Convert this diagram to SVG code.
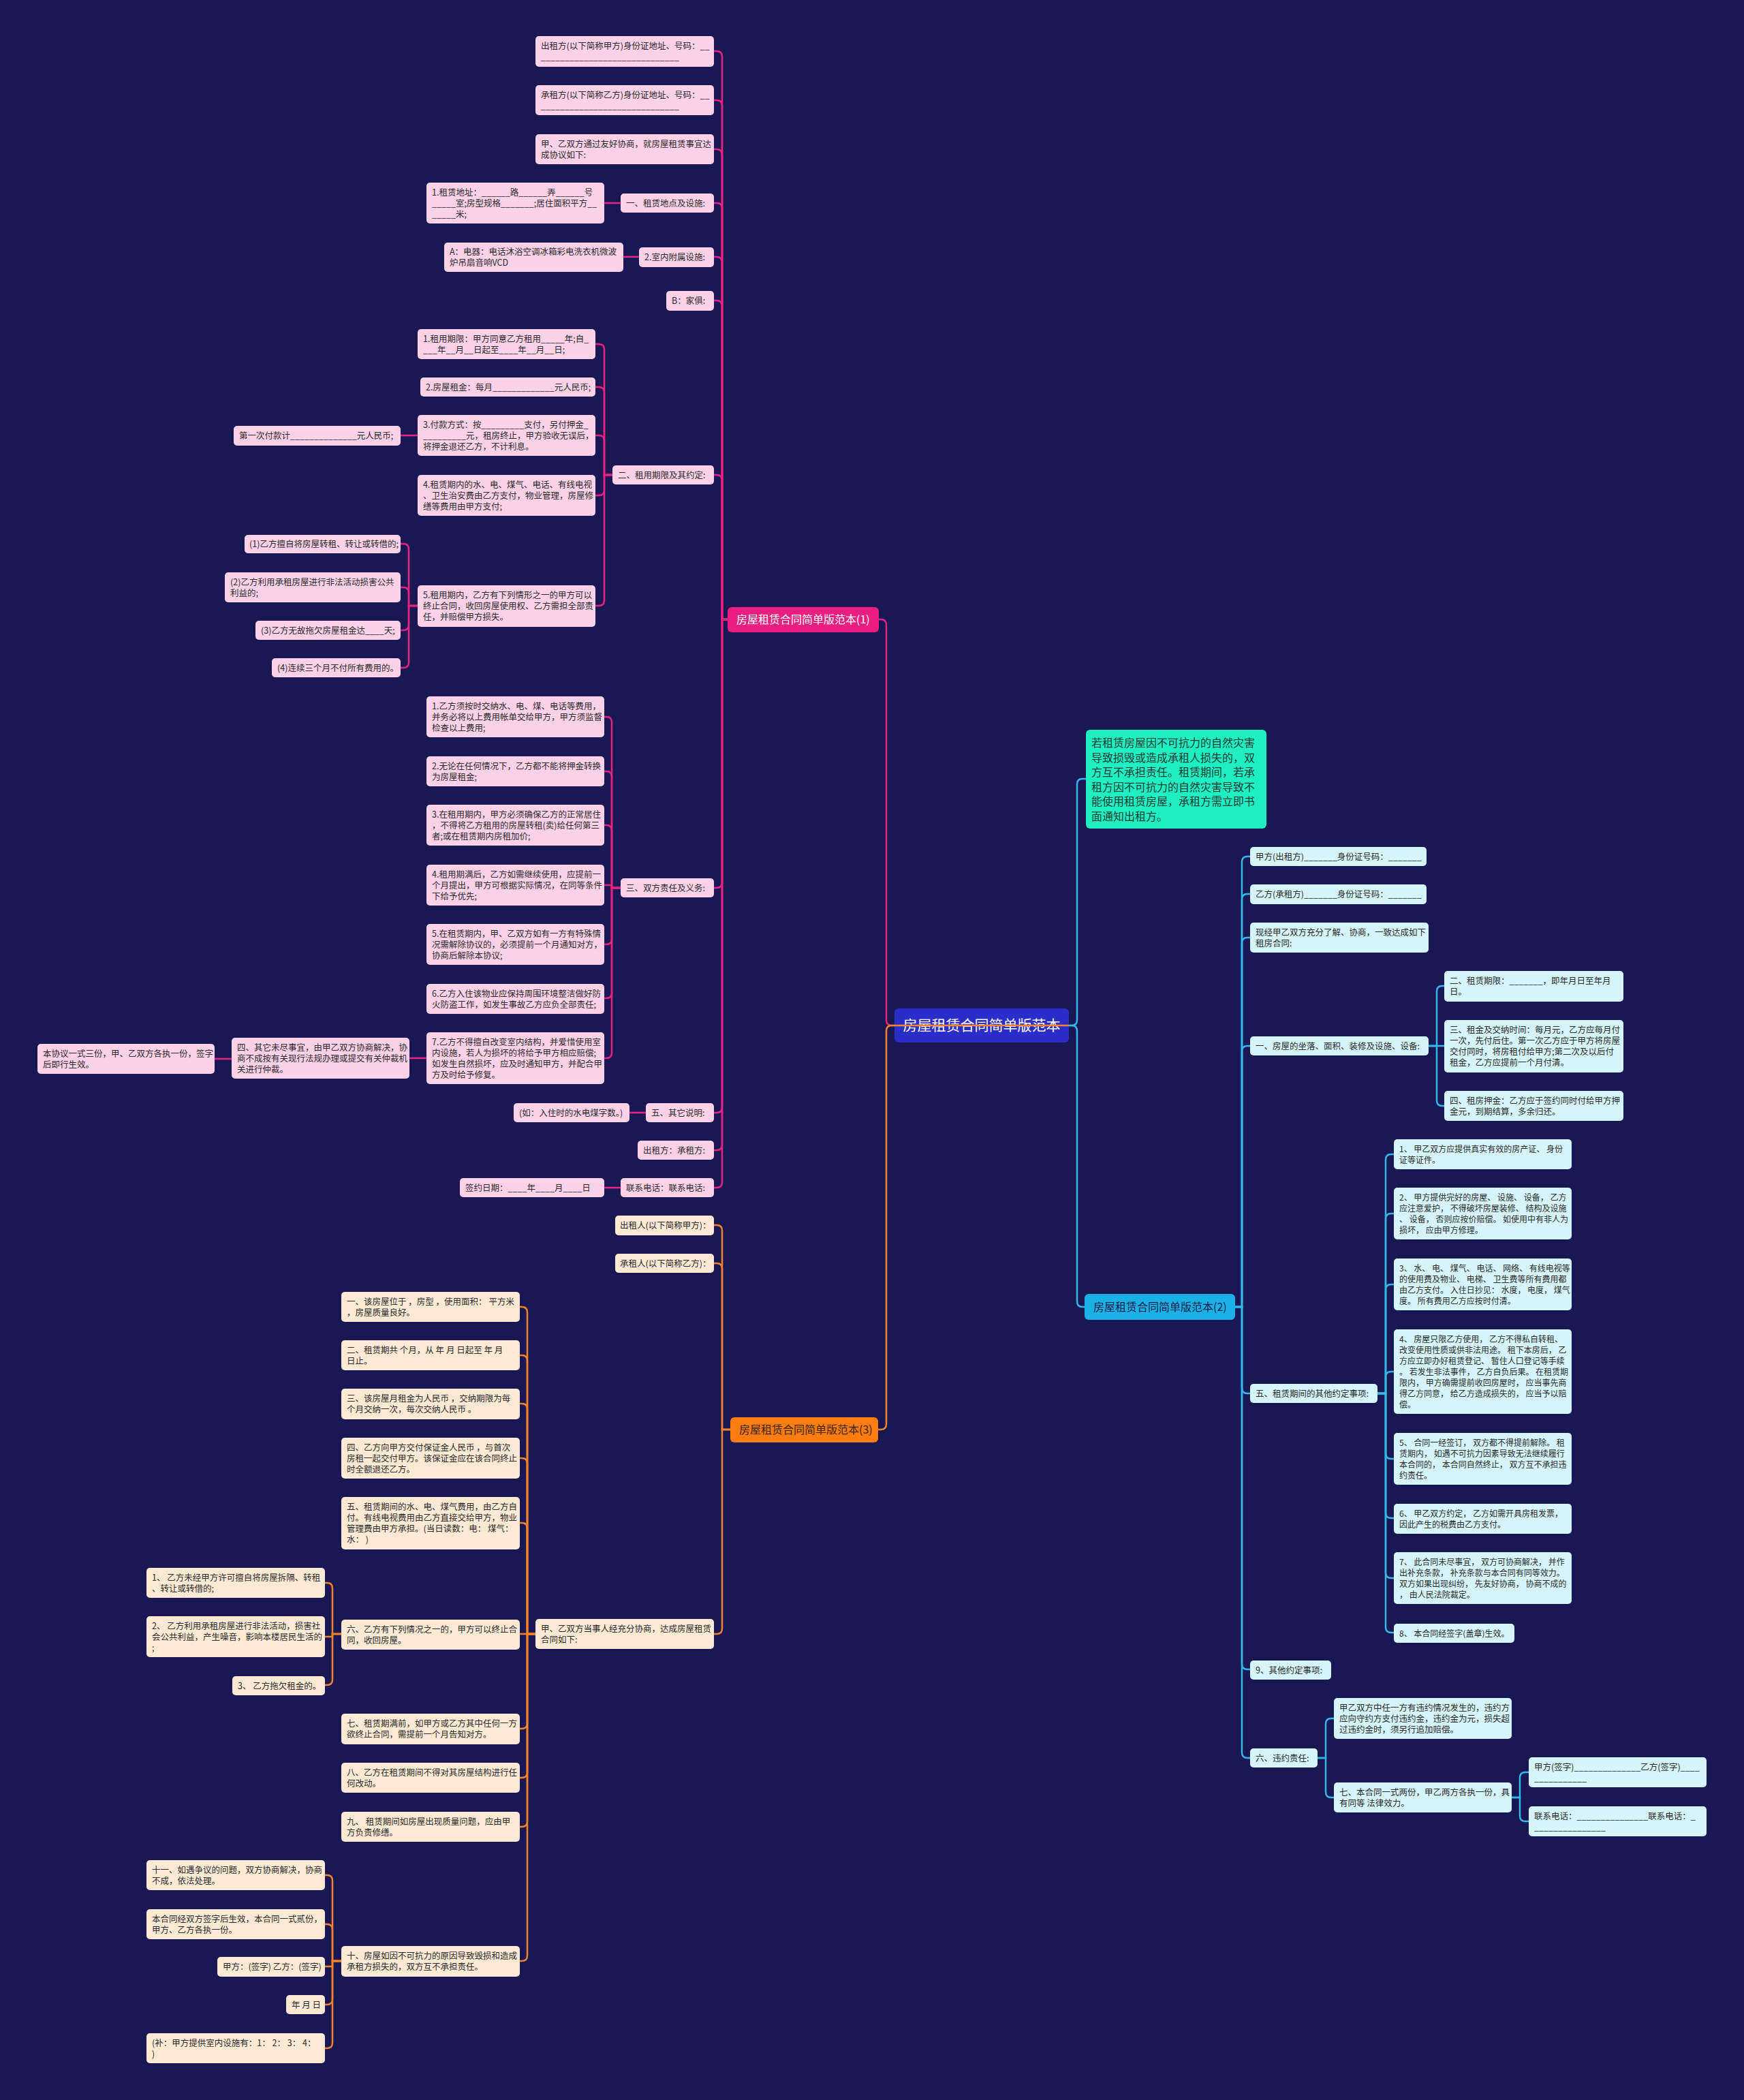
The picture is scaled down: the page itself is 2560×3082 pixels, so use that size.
<svg xmlns="http://www.w3.org/2000/svg" width="2560" height="3082" viewBox="0 0 2560 3082">
<style>
.t{font-family:"Noto Sans CJK SC","Noto Sans",sans-serif;font-size:12.5px;fill:#2b2b2b}
.t2{font-family:"Noto Sans CJK SC","Noto Sans",sans-serif;font-size:12px;fill:#2b2b2b}
.np{fill:#fdd1e7}
.no{fill:#fee9d5}
.nb{fill:#d5f4fb}
.cp{stroke:#e8227f;stroke-width:2.5;fill:none}
.co{stroke:#f2822a;stroke-width:2.5;fill:none}
.cb{stroke:#33b6e8;stroke-width:2.5;fill:none}
.bt{font-family:"Noto Sans CJK SC","Noto Sans",sans-serif;font-size:16px}
</style>
<rect x="0" y="0" width="2560" height="3082" fill="#1a1854"/>

<g id="nodes">
<g id="root"><rect x="1313" y="1480" width="256" height="50" rx="6" fill="#2b2dc9"/><text x="1441" y="1512" text-anchor="middle" style="font-family:'Noto Sans CJK SC','Noto Sans',sans-serif;font-size:21px;fill:#ffffff">房屋租赁合同简单版范本</text></g>

<g id="b1"><rect x="1068" y="891" width="222" height="37" rx="6" fill="#ea1e80"/><text class="bt" x="1081" y="915" fill="#ffffff">房屋租赁合同简单版范本(1)</text></g>
<g id="b1-1"><rect class="np" x="786" y="53" width="262" height="45" rx="5"/><text class="t"><tspan x="794" y="71.5">出租方(以下简称甲方)身份证地址、号码：__</tspan><tspan x="794" y="88">_____________________________</tspan></text></g>
<g id="b1-2"><rect class="np" x="786" y="125" width="262" height="44" rx="5"/><text class="t"><tspan x="794" y="143.5">承租方(以下简称乙方)身份证地址、号码：__</tspan><tspan x="794" y="160">_____________________________</tspan></text></g>
<g id="b1-3"><rect class="np" x="786" y="197" width="262" height="44" rx="5"/><text class="t"><tspan x="794" y="215.5">甲、乙双方通过友好协商，就房屋租赁事宜达</tspan><tspan x="794" y="231.5">成协议如下:</tspan></text></g>
<g id="b1-4"><rect class="np" x="911" y="284" width="137" height="28" rx="5"/><text class="t" x="919" y="302.5">一、租赁地点及设施:</text></g>
<g id="b1-4a"><rect class="np" x="626" y="268" width="261" height="60" rx="5"/><text class="t"><tspan x="634" y="286.5">1.租赁地址：______路______弄______号</tspan><tspan x="634" y="302.5">_____室;房型规格_______;居住面积平方__</tspan><tspan x="634" y="318.5">_____米;</tspan></text></g>
<g id="b1-5"><rect class="np" x="938" y="363" width="110" height="29" rx="5"/><text class="t" x="946" y="381.5">2.室内附属设施:</text></g>
<g id="b1-5a"><rect class="np" x="652" y="356" width="263" height="43" rx="5"/><text class="t"><tspan x="660" y="374">A：电器：电话沐浴空调冰箱彩电洗衣机微波</tspan><tspan x="660" y="390">炉吊扇音响VCD</tspan></text></g>
<g id="b1-6"><rect class="np" x="978" y="427" width="70" height="29" rx="5"/><text class="t" x="986" y="445.5">B：家俱:</text></g>
<g id="b1-7"><rect class="np" x="899" y="683" width="149" height="28" rx="5"/><text class="t" x="907" y="701.5">二、租用期限及其约定:</text></g>
<g id="b1-7a"><rect class="np" x="613" y="483" width="261" height="44" rx="5"/><text class="t"><tspan x="621" y="501.5">1.租用期限：甲方同意乙方租用_____年;自_</tspan><tspan x="621" y="517.5">___年__月__日起至____年__月__日;</tspan></text></g>
<g id="b1-7b"><rect class="np" x="617" y="554" width="257" height="28" rx="5"/><text class="t" x="625" y="572.5">2.房屋租金：每月_____________元人民币;</text></g>
<g id="b1-7c"><rect class="np" x="613" y="609" width="261" height="60" rx="5"/><text class="t"><tspan x="621" y="627.5">3.付款方式：按_________支付，另付押金_</tspan><tspan x="621" y="643.5">_________元，租房终止，甲方验收无误后，</tspan><tspan x="621" y="659.5">将押金退还乙方，不计利息。</tspan></text></g>
<g id="b1-7c1"><rect class="np" x="343" y="625" width="245" height="29" rx="5"/><text class="t" x="351" y="643.5">第一次付款计______________元人民币;</text></g>
<g id="b1-7d"><rect class="np" x="613" y="697" width="261" height="60" rx="5"/><text class="t"><tspan x="621" y="715.5">4.租赁期内的水、电、煤气、电话、有线电视</tspan><tspan x="621" y="731.5">、卫生治安费由乙方支付，物业管理，房屋修</tspan><tspan x="621" y="747.5">缮等费用由甲方支付;</tspan></text></g>
<g id="b1-7e"><rect class="np" x="613" y="859" width="261" height="61" rx="5"/><text class="t"><tspan x="621" y="877.5">5.租用期内，乙方有下列情形之一的甲方可以</tspan><tspan x="621" y="893.5">终止合同，收回房屋使用权、乙方需担全部责</tspan><tspan x="621" y="909.5">任，并赔偿甲方损失。</tspan></text></g>
<g id="b1-7e1"><rect class="np" x="359" y="785" width="229" height="27" rx="5"/><text class="t" x="366" y="803">(1)乙方擅自将房屋转租、转让或转借的;</text></g>
<g id="b1-7e2"><rect class="np" x="330" y="840" width="258" height="44" rx="5"/><text class="t"><tspan x="338" y="858.5">(2)乙方利用承租房屋进行非法活动损害公共</tspan><tspan x="338" y="874.5">利益的;</tspan></text></g>
<g id="b1-7e3"><rect class="np" x="375" y="911" width="213" height="28" rx="5"/><text class="t" x="383" y="929.5">(3)乙方无故拖欠房屋租金达____天;</text></g>
<g id="b1-7e4"><rect class="np" x="399" y="966" width="189" height="28" rx="5"/><text class="t" x="407" y="984.5">(4)连续三个月不付所有费用的。</text></g>
<g id="b1-8"><rect class="np" x="911" y="1289" width="137" height="28" rx="5"/><text class="t" x="919" y="1307.5">三、双方责任及义务:</text></g>
<g id="b1-8a"><rect class="np" x="626" y="1022" width="261" height="60" rx="5"/><text class="t"><tspan x="634" y="1040.5">1.乙方须按时交纳水、电、煤、电话等费用，</tspan><tspan x="634" y="1056.5">并务必将以上费用帐单交给甲方，甲方须监督</tspan><tspan x="634" y="1072.5">检查以上费用;</tspan></text></g>
<g id="b1-8b"><rect class="np" x="626" y="1110" width="261" height="44" rx="5"/><text class="t"><tspan x="634" y="1128.5">2.无论在任何情况下，乙方都不能将押金转换</tspan><tspan x="634" y="1144.5">为房屋租金;</tspan></text></g>
<g id="b1-8c"><rect class="np" x="626" y="1181" width="261" height="60" rx="5"/><text class="t"><tspan x="634" y="1199.5">3.在租用期内，甲方必须确保乙方的正常居住</tspan><tspan x="634" y="1215.5">，不得将乙方租用的房屋转租(卖)给任何第三</tspan><tspan x="634" y="1231.5">者;或在租赁期内房租加价;</tspan></text></g>
<g id="b1-8d"><rect class="np" x="626" y="1269" width="261" height="60" rx="5"/><text class="t"><tspan x="634" y="1287.5">4.租用期满后，乙方如需继续使用，应提前一</tspan><tspan x="634" y="1303.5">个月提出，甲方可根据实际情况，在同等条件</tspan><tspan x="634" y="1319.5">下给予优先;</tspan></text></g>
<g id="b1-8e"><rect class="np" x="626" y="1356" width="261" height="60" rx="5"/><text class="t"><tspan x="634" y="1374.5">5.在租赁期内，甲、乙双方如有一方有特殊情</tspan><tspan x="634" y="1390.5">况需解除协议的，必须提前一个月通知对方，</tspan><tspan x="634" y="1406.5">协商后解除本协议;</tspan></text></g>
<g id="b1-8f"><rect class="np" x="626" y="1444" width="261" height="44" rx="5"/><text class="t"><tspan x="634" y="1462.5">6.乙方入住该物业应保持周围环境整洁做好防</tspan><tspan x="634" y="1478.5">火防盗工作，如发生事故乙方应负全部责任;</tspan></text></g>
<g id="b1-8g"><rect class="np" x="626" y="1515" width="261" height="76" rx="5"/><text class="t"><tspan x="634" y="1533.5">7.乙方不得擅自改变室内结构，并爱惜使用室</tspan><tspan x="634" y="1549.5">内设施，若人为损坏的将给予甲方相应赔偿;</tspan><tspan x="634" y="1565.5">如发生自然损坏，应及时通知甲方，并配合甲</tspan><tspan x="634" y="1581.5">方及时给予修复。</tspan></text></g>
<g id="b1-8g1"><rect class="np" x="340" y="1523" width="261" height="60" rx="5"/><text class="t"><tspan x="348" y="1541.5">四、其它未尽事宜，由甲乙双方协商解决，协</tspan><tspan x="348" y="1557.5">商不成按有关现行法规办理或提交有关仲裁机</tspan><tspan x="348" y="1573.5">关进行仲裁。</tspan></text></g>
<g id="b1-8g2"><rect class="np" x="55" y="1532" width="260" height="44" rx="5"/><text class="t"><tspan x="63" y="1550.5">本协议一式三份，甲、乙双方各执一份，签字</tspan><tspan x="63" y="1566.5">后即行生效。</tspan></text></g>
<g id="b1-9"><rect class="np" x="948" y="1619" width="100" height="28" rx="5"/><text class="t" x="956" y="1637.5">五、其它说明:</text></g>
<g id="b1-9a"><rect class="np" x="754" y="1619" width="170" height="28" rx="5"/><text class="t" x="762" y="1637.5">(如：入住时的水电煤字数。)</text></g>
<g id="b1-10"><rect class="np" x="936" y="1674" width="112" height="28" rx="5"/><text class="t" x="944" y="1692.5">出租方：承租方:</text></g>
<g id="b1-11"><rect class="np" x="911" y="1729" width="137" height="28" rx="5"/><text class="t" x="919" y="1747.5">联系电话：联系电话:</text></g>
<g id="b1-11a"><rect class="np" x="675" y="1729" width="212" height="28" rx="5"/><text class="t" x="683" y="1747.5">签约日期：____年____月____日</text></g>

<g id="note"><rect x="1594" y="1071" width="265" height="145" rx="6" fill="#1ff0c2"/><text style="font-family:'Noto Sans CJK SC','Noto Sans',sans-serif;font-size:16px;fill:#1d3b36"><tspan x="1602" y="1096">若租赁房屋因不可抗力的自然灾害</tspan><tspan x="1602" y="1117.6">导致损毁或造成承租人损失的，双</tspan><tspan x="1602" y="1139.2">方互不承担责任。租赁期间，若承</tspan><tspan x="1602" y="1160.8">租方因不可抗力的自然灾害导致不</tspan><tspan x="1602" y="1182.4">能使用租赁房屋，承租方需立即书</tspan><tspan x="1602" y="1204">面通知出租方。</tspan></text></g>

<g id="b2"><rect x="1592" y="1899" width="221" height="38" rx="6" fill="#1ab2e6"/><text class="bt" x="1605" y="1923.5" fill="#16204a">房屋租赁合同简单版范本(2)</text></g>
<g id="b2-1"><rect class="nb" x="1835" y="1243" width="259" height="28" rx="5"/><text class="t" x="1843" y="1261.5">甲方(出租方)_______身份证号码：_______</text></g>
<g id="b2-2"><rect class="nb" x="1835" y="1298" width="259" height="29" rx="5"/><text class="t" x="1843" y="1316.5">乙方(承租方)_______身份证号码：_______</text></g>
<g id="b2-3"><rect class="nb" x="1835" y="1354" width="262" height="44" rx="5"/><text class="t"><tspan x="1843" y="1372.5">现经甲乙双方充分了解、协商，一致达成如下</tspan><tspan x="1843" y="1388.5">租房合同:</tspan></text></g>
<g id="b2-4"><rect class="nb" x="1835" y="1521" width="262" height="28" rx="5"/><text class="t" x="1843" y="1539.5">一、房屋的坐落、面积、装修及设施、设备:</text></g>
<g id="b2-4a"><rect class="nb" x="2120" y="1425" width="263" height="45" rx="5"/><text class="t"><tspan x="2128" y="1443.5">二、租赁期限：_______，即年月日至年月</tspan><tspan x="2128" y="1459.5">日。</tspan></text></g>
<g id="b2-4b"><rect class="nb" x="2120" y="1497" width="263" height="77" rx="5"/><text class="t"><tspan x="2128" y="1515.5">三、租金及交纳时间：每月元，乙方应每月付</tspan><tspan x="2128" y="1531.5">一次，先付后住。第一次乙方应于甲方将房屋</tspan><tspan x="2128" y="1547.5">交付同时，将房租付给甲方;第二次及以后付</tspan><tspan x="2128" y="1563.5">租金，乙方应提前一个月付清。</tspan></text></g>
<g id="b2-4c"><rect class="nb" x="2120" y="1601" width="263" height="44" rx="5"/><text class="t"><tspan x="2128" y="1619.5">四、租房押金：乙方应于签约同时付给甲方押</tspan><tspan x="2128" y="1635.5">金元，到期结算，多余归还。</tspan></text></g>
<g id="b2-5"><rect class="nb" x="1835" y="2031" width="187" height="28" rx="5"/><text class="t" x="1843" y="2049.5">五、租赁期间的其他约定事项:</text></g>
<g id="b2-5a"><rect class="nb" x="2046" y="1672" width="261" height="44" rx="5"/><text class="t2"><tspan x="2054" y="1690.5">1、 甲乙双方应提供真实有效的房产证、 身份</tspan><tspan x="2054" y="1706.5">证等证件。</tspan></text></g>
<g id="b2-5b"><rect class="nb" x="2046" y="1743" width="261" height="76" rx="5"/><text class="t2"><tspan x="2054" y="1761.5">2、 甲方提供完好的房屋、 设施、 设备， 乙方</tspan><tspan x="2054" y="1777.5">应注意爱护， 不得破坏房屋装修、 结构及设施</tspan><tspan x="2054" y="1793.5">、 设备， 否则应按价赔偿。 如使用中有非人为</tspan><tspan x="2054" y="1809.5">损坏， 应由甲方修理。</tspan></text></g>
<g id="b2-5c"><rect class="nb" x="2046" y="1847" width="261" height="76" rx="5"/><text class="t2"><tspan x="2054" y="1865.5">3、 水、 电、 煤气、 电话、 网络、 有线电视等</tspan><tspan x="2054" y="1881.5">的使用费及物业、 电梯、 卫生费等所有费用都</tspan><tspan x="2054" y="1897.5">由乙方支付。 入住日抄见： 水度， 电度， 煤气</tspan><tspan x="2054" y="1913.5">度。 所有费用乙方应按时付清。</tspan></text></g>
<g id="b2-5d"><rect class="nb" x="2046" y="1951" width="261" height="124" rx="5"/><text class="t2"><tspan x="2054" y="1969.5">4、 房屋只限乙方使用， 乙方不得私自转租、</tspan><tspan x="2054" y="1985.5">改变使用性质或供非法用途。 租下本房后， 乙</tspan><tspan x="2054" y="2001.5">方应立即办好租赁登记、 暂住人口登记等手续</tspan><tspan x="2054" y="2017.5">。 若发生非法事件， 乙方自负后果。 在租赁期</tspan><tspan x="2054" y="2033.5">限内， 甲方确需提前收回房屋时， 应当事先商</tspan><tspan x="2054" y="2049.5">得乙方同意， 给乙方造成损失的， 应当予以赔</tspan><tspan x="2054" y="2065.5">偿。</tspan></text></g>
<g id="b2-5e"><rect class="nb" x="2046" y="2103" width="261" height="76" rx="5"/><text class="t2"><tspan x="2054" y="2121.5">5、 合同一经签订， 双方都不得提前解除。 租</tspan><tspan x="2054" y="2137.5">赁期内， 如遇不可抗力因素导致无法继续履行</tspan><tspan x="2054" y="2153.5">本合同的， 本合同自然终止， 双方互不承担违</tspan><tspan x="2054" y="2169.5">约责任。</tspan></text></g>
<g id="b2-5f"><rect class="nb" x="2046" y="2207" width="261" height="44" rx="5"/><text class="t2"><tspan x="2054" y="2225.5">6、 甲乙双方约定， 乙方如需开具房租发票，</tspan><tspan x="2054" y="2241.5">因此产生的税费由乙方支付。</tspan></text></g>
<g id="b2-5g"><rect class="nb" x="2046" y="2278" width="261" height="76" rx="5"/><text class="t2"><tspan x="2054" y="2296.5">7、 此合同未尽事宜， 双方可协商解决， 并作</tspan><tspan x="2054" y="2312.5">出补充条款， 补充条款与本合同有同等效力。</tspan><tspan x="2054" y="2328.5">双方如果出现纠纷， 先友好协商， 协商不成的</tspan><tspan x="2054" y="2344.5">， 由人民法院裁定。</tspan></text></g>
<g id="b2-5h"><rect class="nb" x="2046" y="2383" width="177" height="28" rx="5"/><text class="t2" x="2054" y="2401.5">8、 本合同经签字(盖章)生效。</text></g>
<g id="b2-6"><rect class="nb" x="1835" y="2437" width="119" height="28" rx="5"/><text class="t" x="1843" y="2455.5">9、其他约定事项:</text></g>
<g id="b2-7"><rect class="nb" x="1835" y="2566" width="99" height="28" rx="5"/><text class="t" x="1843" y="2584.5">六、违约责任:</text></g>
<g id="b2-7a"><rect class="nb" x="1958" y="2492" width="261" height="60" rx="5"/><text class="t"><tspan x="1966" y="2510.5">甲乙双方中任一方有违约情况发生的，违约方</tspan><tspan x="1966" y="2526.5">应向守约方支付违约金，违约金为元，损失超</tspan><tspan x="1966" y="2542.5">过违约金时，须另行追加赔偿。</tspan></text></g>
<g id="b2-7b"><rect class="nb" x="1958" y="2616" width="261" height="44" rx="5"/><text class="t"><tspan x="1966" y="2634.5">七、本合同一式两份，甲乙两方各执一份，具</tspan><tspan x="1966" y="2650.5">有同等 法律效力。</tspan></text></g>
<g id="b2-7b1"><rect class="nb" x="2244" y="2579" width="261" height="44" rx="5"/><text class="t"><tspan x="2252" y="2597.5">甲方(签字)______________乙方(签字)____</tspan><tspan x="2252" y="2614">___________</tspan></text></g>
<g id="b2-7b2"><rect class="nb" x="2244" y="2651" width="261" height="44" rx="5"/><text class="t"><tspan x="2252" y="2669.5">联系电话：_______________联系电话：_</tspan><tspan x="2252" y="2686">_______________</tspan></text></g>

<g id="b3"><rect x="1072" y="2080" width="217" height="37" rx="6" fill="#fb7d10"/><text class="bt" x="1085" y="2104" fill="#3d2410">房屋租赁合同简单版范本(3)</text></g>
<g id="b3-1"><rect class="no" x="903" y="1784" width="145" height="29" rx="5"/><text class="t" x="910" y="1802.5">出租人(以下简称甲方)：</text></g>
<g id="b3-2"><rect class="no" x="903" y="1840" width="145" height="28" rx="5"/><text class="t" x="910" y="1858.5">承租人(以下简称乙方)：</text></g>
<g id="b3-3"><rect class="no" x="786" y="2376" width="262" height="44" rx="5"/><text class="t"><tspan x="794" y="2394.5">甲、乙双方当事人经充分协商，达成房屋租赁</tspan><tspan x="794" y="2410.5">合同如下:</tspan></text></g>
<g id="b3-3a"><rect class="no" x="501" y="1896" width="262" height="44" rx="5"/><text class="t"><tspan x="509" y="1914.5">一、该房屋位于 ，房型 ，使用面积： 平方米</tspan><tspan x="509" y="1930.5">，房屋质量良好。</tspan></text></g>
<g id="b3-3b"><rect class="no" x="501" y="1967" width="262" height="44" rx="5"/><text class="t"><tspan x="509" y="1985.5">二、租赁期共 个月，从 年 月 日起至 年 月</tspan><tspan x="509" y="2001.5">日止。</tspan></text></g>
<g id="b3-3c"><rect class="no" x="501" y="2038" width="262" height="45" rx="5"/><text class="t"><tspan x="509" y="2056.5">三、该房屋月租金为人民币 ，交纳期限为每</tspan><tspan x="509" y="2072.5">个月交纳一次，每次交纳人民币 。</tspan></text></g>
<g id="b3-3d"><rect class="no" x="501" y="2110" width="262" height="60" rx="5"/><text class="t"><tspan x="509" y="2128.5">四、乙方向甲方交付保证金人民币 ，与首次</tspan><tspan x="509" y="2144.5">房租一起交付甲方。该保证金应在该合同终止</tspan><tspan x="509" y="2160.5">时全额退还乙方。</tspan></text></g>
<g id="b3-3e"><rect class="no" x="501" y="2197" width="262" height="77" rx="5"/><text class="t"><tspan x="509" y="2215.5">五、租赁期间的水、电、煤气费用，由乙方自</tspan><tspan x="509" y="2231.5">付。有线电视费用由乙方直接交给甲方，物业</tspan><tspan x="509" y="2247.5">管理费由甲方承担。(当日读数：电： 煤气：</tspan><tspan x="509" y="2263.5">水： )</tspan></text></g>
<g id="b3-3f"><rect class="no" x="501" y="2377" width="262" height="44" rx="5"/><text class="t"><tspan x="509" y="2395.5">六、乙方有下列情况之一的，甲方可以终止合</tspan><tspan x="509" y="2411.5">同，收回房屋。</tspan></text></g>
<g id="b3-3f1"><rect class="no" x="215" y="2301" width="262" height="44" rx="5"/><text class="t"><tspan x="223" y="2319.5">1、 乙方未经甲方许可擅自将房屋拆隔、转租</tspan><tspan x="223" y="2335.5">、转让或转借的;</tspan></text></g>
<g id="b3-3f2"><rect class="no" x="215" y="2372" width="262" height="60" rx="5"/><text class="t"><tspan x="223" y="2390.5">2、 乙方利用承租房屋进行非法活动，损害社</tspan><tspan x="223" y="2406.5">会公共利益，产生噪音，影响本楼居民生活的</tspan><tspan x="223" y="2422.5">;</tspan></text></g>
<g id="b3-3f3"><rect class="no" x="341" y="2460" width="136" height="28" rx="5"/><text class="t" x="349" y="2478.5">3、 乙方拖欠租金的。</text></g>
<g id="b3-3g"><rect class="no" x="501" y="2515" width="262" height="45" rx="5"/><text class="t"><tspan x="509" y="2533.5">七、租赁期满前，如甲方或乙方其中任何一方</tspan><tspan x="509" y="2549.5">欲终止合同，需提前一个月告知对方。</tspan></text></g>
<g id="b3-3h"><rect class="no" x="501" y="2587" width="262" height="44" rx="5"/><text class="t"><tspan x="509" y="2605.5">八、乙方在租赁期间不得对其房屋结构进行任</tspan><tspan x="509" y="2621.5">何改动。</tspan></text></g>
<g id="b3-3i"><rect class="no" x="501" y="2659" width="262" height="44" rx="5"/><text class="t"><tspan x="509" y="2677.5">九、 租赁期间如房屋出现质量问题，应由甲</tspan><tspan x="509" y="2693.5">方负责修缮。</tspan></text></g>
<g id="b3-3j"><rect class="no" x="501" y="2856" width="262" height="45" rx="5"/><text class="t"><tspan x="509" y="2874.5">十、房屋如因不可抗力的原因导致毁损和造成</tspan><tspan x="509" y="2890.5">承租方损失的，双方互不承担责任。</tspan></text></g>
<g id="b3-3j1"><rect class="no" x="215" y="2730" width="262" height="44" rx="5"/><text class="t"><tspan x="223" y="2748.5">十一、如遇争议的问题，双方协商解决，协商</tspan><tspan x="223" y="2764.5">不成，依法处理。</tspan></text></g>
<g id="b3-3j2"><rect class="no" x="215" y="2802" width="262" height="44" rx="5"/><text class="t"><tspan x="223" y="2820.5">本合同经双方签字后生效，本合同一式贰份，</tspan><tspan x="223" y="2836.5">甲方、乙方各执一份。</tspan></text></g>
<g id="b3-3j3"><rect class="no" x="319" y="2872" width="158" height="29" rx="5"/><text class="t" x="327" y="2890.5">甲方：(签字) 乙方：(签字)</text></g>
<g id="b3-3j4"><rect class="no" x="420" y="2928" width="57" height="28" rx="5"/><text class="t" x="428" y="2946.5">年 月 日</text></g>
<g id="b3-3j5"><rect class="no" x="215" y="2984" width="262" height="44" rx="5"/><text class="t"><tspan x="223" y="3002.5">(补：甲方提供室内设施有：1： 2： 3： 4：</tspan><tspan x="223" y="3018.5">)</tspan></text></g>
</g>

<g id="connectors">
<path class="cp" d="M1313 1505H1309Q1301 1505 1301 1497V917Q1301 909 1293 909H1290"/>
<path class="co" d="M1569 1505H1309Q1301 1505 1301 1513V2090Q1301 2098 1293 2098H1289"/>
<path class="cb" d="M1569 1505H1573Q1581 1505 1581 1497V1151Q1581 1143 1589 1143H1594"/>
<path class="cb" d="M1569 1505H1573Q1581 1505 1581 1513V1910Q1581 1918 1589 1918H1592"/>

<path class="cp" d="M1048 75H1052Q1060 75 1060 83V909H1068"/>
<path class="cp" d="M1048 147H1052Q1060 147 1060 155V909H1068"/>
<path class="cp" d="M1048 219H1052Q1060 219 1060 227V909H1068"/>
<path class="cp" d="M1048 298H1052Q1060 298 1060 306V909H1068"/>
<path class="cp" d="M1048 377H1052Q1060 377 1060 385V909H1068"/>
<path class="cp" d="M1048 441H1052Q1060 441 1060 449V909H1068"/>
<path class="cp" d="M1048 697H1052Q1060 697 1060 705V909H1068"/>
<path class="cp" d="M1048 1303H1052Q1060 1303 1060 1295V909H1068"/>
<path class="cp" d="M1048 1633H1052Q1060 1633 1060 1625V909H1068"/>
<path class="cp" d="M1048 1688H1052Q1060 1688 1060 1680V909H1068"/>
<path class="cp" d="M1048 1743H1052Q1060 1743 1060 1735V909H1068"/>
<path class="cp" d="M887 298H911"/>
<path class="cp" d="M915 377H938"/>
<path class="cp" d="M874 505H879Q887 505 887 513V697H899"/>
<path class="cp" d="M874 568H879Q887 568 887 576V697H899"/>
<path class="cp" d="M874 639H879Q887 639 887 647V697H899"/>
<path class="cp" d="M874 727H879Q887 727 887 719V697H899"/>
<path class="cp" d="M874 889H879Q887 889 887 881V697H899"/>
<path class="cp" d="M588 639H613"/>
<path class="cp" d="M588 798H592Q600 798 600 806V889H613"/>
<path class="cp" d="M588 862H592Q600 862 600 870V889H613"/>
<path class="cp" d="M588 925H592Q600 925 600 917V889H613"/>
<path class="cp" d="M588 980H592Q600 980 600 972V889H613"/>
<path class="cp" d="M887 1052H890Q898 1052 898 1060V1303H911"/>
<path class="cp" d="M887 1132H890Q898 1132 898 1140V1303H911"/>
<path class="cp" d="M887 1211H890Q898 1211 898 1219V1303H911"/>
<path class="cp" d="M887 1299H898V1303H911"/>
<path class="cp" d="M887 1386H890Q898 1386 898 1378V1303H911"/>
<path class="cp" d="M887 1465H890Q898 1465 898 1457V1303H911"/>
<path class="cp" d="M887 1553H890Q898 1553 898 1545V1303H911"/>
<path class="cp" d="M601 1553H626"/>
<path class="cp" d="M315 1554H340"/>
<path class="cp" d="M924 1633H948"/>
<path class="cp" d="M887 1743H911"/>

<path class="cb" d="M1813 1918H1823V1265Q1823 1257 1831 1257H1835"/>
<path class="cb" d="M1813 1918H1823V1320Q1823 1312 1831 1312H1835"/>
<path class="cb" d="M1813 1918H1823V1384Q1823 1376 1831 1376H1835"/>
<path class="cb" d="M1813 1918H1823V1543Q1823 1535 1831 1535H1835"/>
<path class="cb" d="M1813 1918H1823V2037Q1823 2045 1831 2045H1835"/>
<path class="cb" d="M1813 1918H1823V2442Q1823 2450 1831 2450H1835"/>
<path class="cb" d="M1813 1918H1823V2572Q1823 2580 1831 2580H1835"/>
<path class="cb" d="M2097 1535H2109V1455Q2109 1447 2117 1447H2120"/>
<path class="cb" d="M2097 1535H2120"/>
<path class="cb" d="M2097 1535H2109V1615Q2109 1623 2117 1623H2120"/>
<path class="cb" d="M2022 2045H2034V1702Q2034 1694 2042 1694H2046"/>
<path class="cb" d="M2022 2045H2034V1789Q2034 1781 2042 1781H2046"/>
<path class="cb" d="M2022 2045H2034V1893Q2034 1885 2042 1885H2046"/>
<path class="cb" d="M2022 2045H2034V2021Q2034 2013 2042 2013H2046"/>
<path class="cb" d="M2022 2045H2034V2133Q2034 2141 2042 2141H2046"/>
<path class="cb" d="M2022 2045H2034V2220Q2034 2228 2042 2228H2046"/>
<path class="cb" d="M2022 2045H2034V2308Q2034 2316 2042 2316H2046"/>
<path class="cb" d="M2022 2045H2034V2388Q2034 2396 2042 2396H2046"/>
<path class="cb" d="M1934 2580H1946V2530Q1946 2522 1954 2522H1958"/>
<path class="cb" d="M1934 2580H1946V2630Q1946 2638 1954 2638H1958"/>
<path class="cb" d="M2219 2638H2231V2609Q2231 2601 2239 2601H2244"/>
<path class="cb" d="M2219 2638H2231V2665Q2231 2673 2239 2673H2244"/>

<path class="co" d="M1048 1798H1052Q1060 1798 1060 1806V2098H1072"/>
<path class="co" d="M1048 1854H1052Q1060 1854 1060 1862V2098H1072"/>
<path class="co" d="M1048 2398H1052Q1060 2398 1060 2390V2098H1072"/>
<path class="co" d="M763 1918H766Q774 1918 774 1926V2398H786"/>
<path class="co" d="M763 1989H766Q774 1989 774 1997V2398H786"/>
<path class="co" d="M763 2060H766Q774 2060 774 2068V2398H786"/>
<path class="co" d="M763 2140H766Q774 2140 774 2148V2398H786"/>
<path class="co" d="M763 2235H766Q774 2235 774 2243V2398H786"/>
<path class="co" d="M763 2398H786"/>
<path class="co" d="M763 2537H766Q774 2537 774 2529V2398H786"/>
<path class="co" d="M763 2609H766Q774 2609 774 2601V2398H786"/>
<path class="co" d="M763 2681H766Q774 2681 774 2673V2398H786"/>
<path class="co" d="M763 2878H766Q774 2878 774 2870V2398H786"/>
<path class="co" d="M477 2323H480Q488 2323 488 2331V2398H501"/>
<path class="co" d="M477 2402H488V2398H501"/>
<path class="co" d="M477 2473H480Q488 2473 488 2465V2398H501"/>
<path class="co" d="M477 2752H480Q488 2752 488 2760V2878H501"/>
<path class="co" d="M477 2824H480Q488 2824 488 2832V2878H501"/>
<path class="co" d="M477 2886H488V2878H501"/>
<path class="co" d="M477 2942H480Q488 2942 488 2934V2878H501"/>
<path class="co" d="M477 3006H480Q488 3006 488 2998V2878H501"/>
</g>
</svg>
